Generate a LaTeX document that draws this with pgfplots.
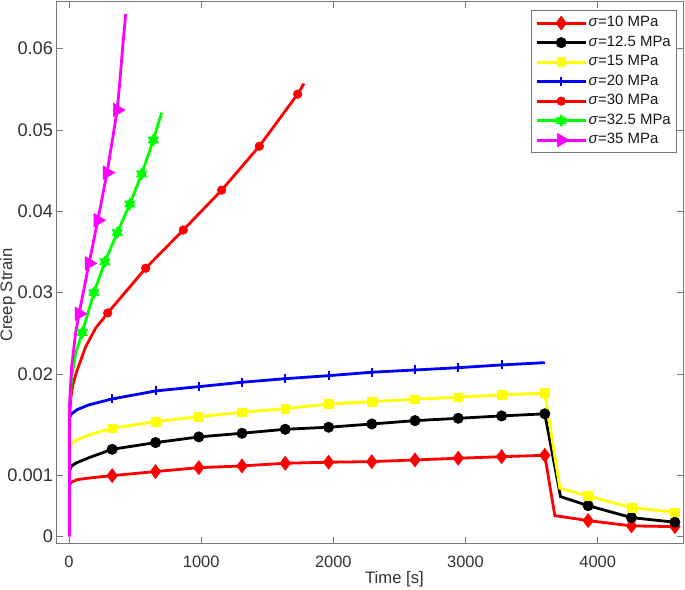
\documentclass[border=0pt]{standalone}
\usepackage{pgfplots}
\pgfplotsset{compat=1.18}
\usepackage{fontspec}
\setmainfont{Liberation Sans}
\pgfdeclareplotmark{hexagram}{%
  \pgfpathmoveto{\pgfqpointpolar{90}{\pgfplotmarksize}}%
  \pgfpathlineto{\pgfqpointpolar{210}{\pgfplotmarksize}}%
  \pgfpathlineto{\pgfqpointpolar{330}{\pgfplotmarksize}}%
  \pgfpathclose
  \pgfpathmoveto{\pgfqpointpolar{270}{\pgfplotmarksize}}%
  \pgfpathlineto{\pgfqpointpolar{30}{\pgfplotmarksize}}%
  \pgfpathlineto{\pgfqpointpolar{150}{\pgfplotmarksize}}%
  \pgfpathclose
  \pgfusepathqfillstroke
}
\definecolor{axgray}{RGB}{120,120,120}
\definecolor{txgray}{RGB}{50,50,50}
\definecolor{mred}{RGB}{255,0,0}
\definecolor{myellow}{RGB}{255,255,0}
\definecolor{mblue}{RGB}{0,0,255}
\definecolor{mgreen}{RGB}{0,255,0}
\definecolor{mmagenta}{RGB}{255,0,255}
\begin{document}
\begin{tikzpicture}
\begin{axis}[
  scale only axis,
  width=626.6bp, height=541.6bp,
  xmin=-93, xmax=4648,
  ymin=-0.00082, ymax=0.06577,
  xtick={0,1000,2000,3000,4000},
  xticklabels={0,1000,2000,3000,4000},
  ytick={0,0.0075,0.02,0.03,0.04,0.05,0.06},
  yticklabels={0,0.001,0.02,0.03,0.04,0.05,0.06},
  scaled x ticks=false, scaled y ticks=false,
  tick align=inside,
  major tick length=6bp,
  axis line style={axgray, line width=0.8bp},
  every tick/.style={axgray, line width=0.8bp},
  tick label style={text=txgray, inner sep=0pt},
  xticklabel style={font=\fontsize{16.5}{18}\selectfont, anchor=north, yshift=-13bp},
  yticklabel style={font=\fontsize{18.3}{20}\selectfont, anchor=east, xshift=-3.5bp},
  xlabel={Time [s]},
  ylabel={Creep Strain},
  label style={font=\fontsize{16.7}{18}\selectfont, text=txgray, inner sep=0pt},
  xlabel style={at={(axis description cs:0.539,0)}, anchor=north, yshift=-28bp},
  ylabel style={at={(axis description cs:-0.0778,0.458)}, anchor=center, rotate=0},
  legend style={
    at={(rel axis cs:0.9895,0.9847)}, anchor=north east,
    draw=axgray, line width=0.8bp, fill=white,
    inner xsep=4bp, inner ysep=5.5bp,
    row sep=5bp,
    font=\fontsize{15}{17}\selectfont, text=black!90,
    nodes={inner xsep=1.5bp, inner ysep=0pt, text height=11bp, text depth=3.5bp},
  },
  legend cell align=left,
  legend image code/.code={%
    \draw[mark indices={2}] plot coordinates {(0bp,0bp) (24.5bp,0bp) (49bp,0bp)};},
  every axis plot/.append style={line width=2.8bp},
]
% sigma = 10 MPa
\addplot[mred, mark=diamond*, mark size=7bp, mark options={fill=mred, line width=0.6bp},
  mark indices={5,6,7,8,9,10,11,12,13,14,15,17,18,19}] coordinates {
(3,0.0063) (20,0.0067) (60,0.0070) (150,0.0072) (327,0.0075) (655,0.0080)
(982,0.00848) (1309,0.00869) (1636,0.00902) (1964,0.00915) (2291,0.00922)
(2618,0.00943) (2945,0.00964) (3273,0.00983) (3600,0.0100) (3676,0.00258)
(3928,0.00197) (4256,0.00132) (4584,0.00123)};
\addlegendentry{\textit{σ}=10 MPa}
% sigma = 12.5 MPa
\addplot[black, mark=*, mark size=5.2bp, mark options={fill=black, line width=0.6bp},
  mark indices={5,6,7,8,9,10,11,12,13,14,15,17,18,19}] coordinates {
(3,0.0081) (20,0.0087) (60,0.0091) (150,0.0097) (327,0.01074) (655,0.01156)
(982,0.01226) (1309,0.01271) (1636,0.0132) (1964,0.01345) (2291,0.01385)
(2618,0.01426) (2945,0.01455) (3273,0.01484) (3600,0.0151) (3719,0.00492)
(3928,0.00381) (4256,0.00234) (4584,0.00177)};
\addlegendentry{\textit{σ}=12.5 MPa}
% sigma = 15 MPa
\addplot[myellow, mark=square*, mark size=4.4bp, mark options={fill=myellow, line width=0.6bp},
  mark indices={5,6,7,8,9,10,11,12,13,14,15,17,18,19}] coordinates {
(3,0.0109) (20,0.0114) (60,0.0119) (150,0.0125) (327,0.01332) (655,0.01414)
(982,0.01475) (1309,0.01529) (1636,0.01573) (1964,0.01631) (2291,0.01659)
(2618,0.01689) (2945,0.01714) (3273,0.01742) (3600,0.01765) (3714,0.00595)
(3928,0.0050) (4256,0.00357) (4584,0.0030)};
\addlegendentry{\textit{σ}=15 MPa}
% sigma = 20 MPa
\addplot[mblue, mark=+, mark size=4.5bp, mark options={line width=2bp},
  mark indices={5,6,7,8,9,10,11,12,13,14}] coordinates {
(3,0.0146) (20,0.0151) (60,0.0156) (150,0.0162) (327,0.01693) (655,0.01791)
(982,0.01844) (1309,0.01898) (1636,0.01942) (1964,0.01979) (2291,0.02021)
(2618,0.02049) (2945,0.02077) (3273,0.02111) (3600,0.02139)};
\addlegendentry{\textit{σ}=20 MPa}
% sigma = 30 MPa
\addplot[mred, mark=*, mark size=4.3bp, mark options={fill=mred, line width=0.6bp},
  mark indices={7,8,9,10,11,12}] coordinates {
(5,0.0150) (15,0.0172) (30,0.0187) (58,0.0203) (125,0.0233) (200,0.0256) (293,0.0275)
(580,0.0330) (865,0.0377) (1155,0.0426) (1440,0.0480) (1730,0.0544) (1778,0.0557)};
\addlegendentry{\textit{σ}=30 MPa}
% sigma = 32.5 MPa
\addplot[mgreen, mark=hexagram, mark size=6bp, mark options={fill=mgreen, line width=0.6bp},
  mark indices={4,5,6,7,8,9,10}] coordinates {
(5,0.0160) (20,0.0195) (50,0.0225) (100,0.0251) (189,0.0300) (272,0.0338)
(365,0.03737) (461,0.0409) (550,0.04459) (638,0.04876) (701,0.05212)};
\addlegendentry{\textit{σ}=32.5 MPa}
% sigma = 35 MPa
\addplot[mmagenta, mark=triangle*, mark size=7.8bp, mark options={fill=mmagenta, line width=0.6bp, rotate=-90},
  mark indices={5,6,7,8,9}] coordinates {
(3,0) (5,0.0165) (20,0.0209) (50,0.0250) (76,0.0274) (152,0.0336) (218,0.0389)
(288,0.04475) (365,0.05245) (385,0.0560) (405,0.0600) (429,0.06425)};
\addlegendentry{\textit{σ}=35 MPa}
\coordinate (SW) at (rel axis cs:0,0);
\coordinate (NE) at (rel axis cs:1,1);
\end{axis}
\pgfresetboundingbox
\path ([shift={(-56.7bp,-46.7bp)}]SW) rectangle ([shift={(1.7bp,1.7bp)}]NE);
\end{tikzpicture}
\end{document}
